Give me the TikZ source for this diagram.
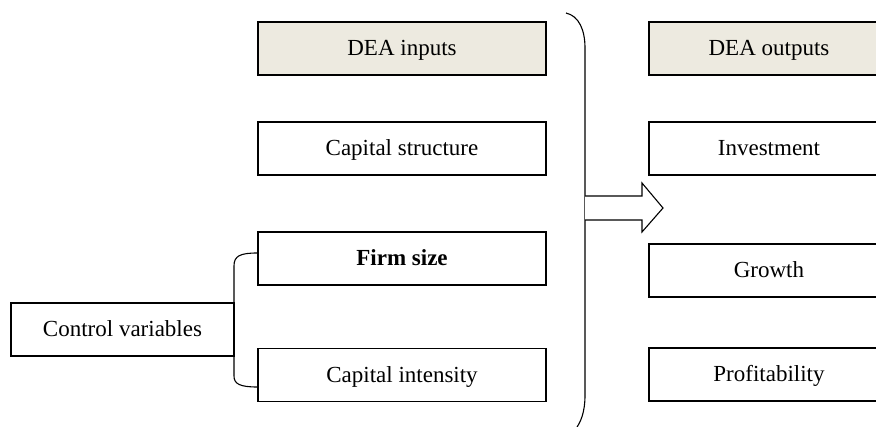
\documentclass[tikz,border=0pt]{standalone}
\usepackage{fontspec}
\setmainfont{Liberation Serif}
\usetikzlibrary{calc}
\definecolor{headfill}{RGB}{237,234,224}
\begin{document}
\begin{tikzpicture}[x=1pt,y=-1pt,
  box/.style={draw, line width=1.2pt, inner sep=0pt, text height=15pt, text depth=0pt,
    font=\fontsize{23}{27}\selectfont, anchor=center},
  lbox/.style={box, minimum width=288pt, minimum height=53pt},
  rbox/.style={box, minimum width=240pt, minimum height=53pt},
  head/.style={fill=headfill},
  conn/.style={line width=1.1pt}]
\useasboundingbox (0,0) rectangle (876,427);
\clip (0,0) rectangle (876,427);
% left column
\node[lbox, head] (in) at (402,48.5) {DEA inputs};
\node[lbox] (cs) at (402,148.5) {Capital structure};
\node[lbox] (fs) at (402,258.5) {\bfseries Firm size};
\node[lbox] (ci) at (402,375) {Capital intensity};
\node[box, minimum width=223pt, minimum height=53pt] (cv) at (122.5,329.5) {Control variables};
% right column
\node[rbox, head] (out) at (769,48.5) {DEA outputs};
\node[rbox] (inv) at (769,148.5) {Investment};
\node[rbox] (gr) at (769,270.5) {Growth};
\node[rbox] (pr) at (769,374.5) {Profitability};
% small bracket
\coordinate (bt) at ($(fs.west)+(0,-5.5)$);
\coordinate (bb) at ($(ci.west)+(0,12)$);
\draw[conn] (bt) .. controls (240,253) and (234,256) .. (234,266)
  -- (234,376) .. controls (234,384) and (240,387) .. (bb);
% big brace
\coordinate (bs) at (566,13);
\coordinate (be) at (575,430);
\draw[conn] (bs) .. controls (579,16) and (585,30) .. (585,48)
  -- (585,395) .. controls (585,412) and (581,422) .. (be);
% arrow
\coordinate (a0) at (585,196);
\coordinate (a1) at (585,220);
\draw[conn, fill=white] (a0) -- (642,196) -- (642,183) -- (663,208) -- (642,232) -- (642,220) -- (a1);
\end{tikzpicture}
\end{document}
